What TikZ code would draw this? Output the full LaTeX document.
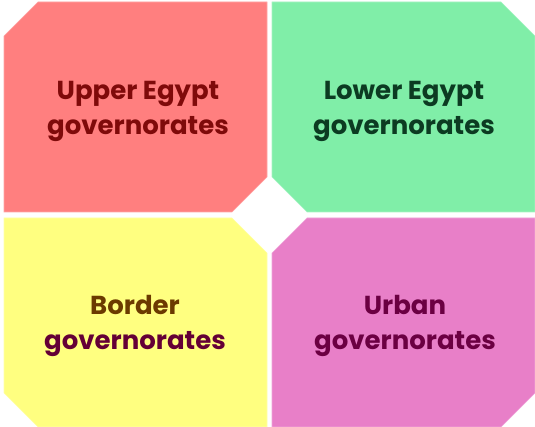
\documentclass[tikz,border=0pt]{standalone}
\usepackage{fontspec}
\setmainfont{Poppins}
\definecolor{upperfill}{HTML}{FF7F7F}
\definecolor{lowerfill}{HTML}{80EEA8}
\definecolor{borderfill}{HTML}{FFFF80}
\definecolor{urbanfill}{HTML}{E87FC8}
\definecolor{uppertext}{HTML}{7F0A0A}
\definecolor{lowertext}{HTML}{0C3B22}
\definecolor{bordertext}{HTML}{6B3A00}
\definecolor{govtext}{HTML}{640036}
\definecolor{urbantext}{HTML}{6B0042}
\begin{document}
\begin{tikzpicture}[x=1pt,y=-1pt,
  quad/.style={line width=.6pt},
  lbl/.style={align=center,inner sep=0pt,font=\fontsize{26}{35}\selectfont\bfseries}]
\useasboundingbox (0,0) rectangle (535,427);
% four regions
\filldraw[quad,fill=upperfill,draw=upperfill!70!white] (4,36) -- (38,2) -- (267,2) -- (267,177) -- (232,212) -- (4,212) -- cycle;
\filldraw[quad,fill=lowerfill,draw=lowerfill!70!white] (272,2) -- (501,2) -- (535,36) -- (535,212) -- (307,212) -- (272,177) -- cycle;
\filldraw[quad,fill=borderfill,draw=borderfill!70!white] (4,218) -- (232,218) -- (267,253) -- (267,427) -- (38,427) -- (4,393) -- cycle;
\filldraw[quad,fill=urbanfill,draw=urbanfill!70!white] (307,218) -- (535,218) -- (535,393) -- (501,427) -- (272,427) -- (272,253) -- cycle;
% labels
\node[lbl,text=uppertext] (upper) at (138,111) {Upper Egypt\\governorates};
\node[lbl,text=lowertext] (lower) at (404,111) {Lower Egypt\\governorates};
\node[lbl,text=govtext] (border) at (135,326) {{\color{bordertext}Border}\\governorates};
\node[lbl,text=urbantext] (urban) at (405,326) {Urban\\governorates};
\end{tikzpicture}
\end{document}
